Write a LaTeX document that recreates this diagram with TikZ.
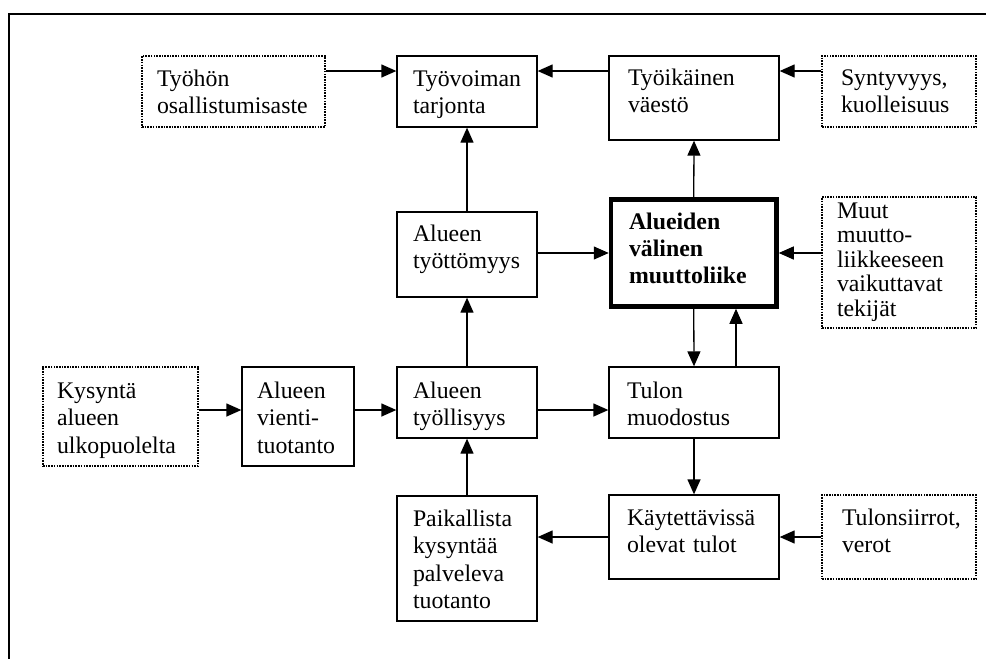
\documentclass[tikz,border=0pt]{standalone}
\usepackage{fontspec}
\setmainfont{Liberation Serif}
\usetikzlibrary{arrows.meta}
\newcommand\padtext[2]{\leftskip=#1pt\relax #2\par}
\tikzset{
  box/.style={draw, line width=1.3pt, inner sep=0pt, align=left, anchor=center,
    font=\fontsize{23.8}{27.5}\selectfont},
  dotbox/.style={box, line width=1.6pt, dash pattern=on 1.6pt off 1.1pt},
  thickbox/.style={box, line width=4.5pt, outer sep=2.25pt,
    font=\fontsize{23.8}{27}\selectfont\bfseries},
  arr/.style={line width=1.3pt, -{Triangle[length=15pt,width=13pt]}},
  frame/.style={line width=1.6pt}
}
\begin{document}
\begin{tikzpicture}[x=1pt,y=-1pt]
\useasboundingbox (0,0) rectangle (986,659);
\draw[frame] (986,14) -- (9,14) -- (9,659);

\coordinate (yA) at (0,71);
\coordinate (yB) at (0,253);
\coordinate (yC) at (0,410);
\coordinate (yD) at (0,537);
\coordinate (xE) at (736,0);

\node[dotbox, text width=183pt, text height=30pt, text depth=41pt] (tyohon) at (233.5,91.5)
  {\padtext{15}{Työhön\\osallistumisaste}};
\node[box, text width=140pt, text height=30pt, text depth=41pt] (tarjonta) at (467,91.5)
  {\padtext{16}{Työvoiman\\tarjonta}};
\node[box, text width=170pt, text height=29pt, text depth=55pt] (tyoikainen) at (694,98)
  {\padtext{19}{Työikäinen\\väestö}};
\node[dotbox, text width=154pt, text height=29pt, text depth=42pt] (syntyvyys) at (899,91.5)
  {\padtext{19}{Syntyvyys,\\kuolleisuus}};

\node[box, text width=140pt, text height=29pt, text depth=56pt] (tyottomyys) at (467,254.5)
  {\padtext{16}{Alueen\\työttömyys}};
\node[thickbox, text width=165.5pt, text height=29.5pt, text depth=77.5pt] (muutto) at (693.75,253)
  {\padtext{18}{Alueiden\\välinen\\muuttoliike}};
\node[dotbox, font=\fontsize{23.8}{24.5}\selectfont, text width=154pt, text height=21pt, text depth=110pt] (muut) at (899,262.5)
  {\padtext{15}{Muut\\muutto-\\liikkeeseen\\vaikuttavat\\tekijät}};

\node[dotbox, text width=155pt, text height=31pt, text depth=68pt] (kysynta) at (120.5,416.5)
  {\padtext{14}{Kysyntä\\alueen\\ulkopuolelta}};
\node[box, text width=112pt, text height=31pt, text depth=68pt] (vienti) at (298,416.5)
  {\padtext{15}{Alueen\\vienti-\\tuotanto}};
\node[box, text width=140pt, text height=31pt, text depth=40pt] (tyollisyys) at (467,402.5)
  {\padtext{16}{Alueen\\työllisyys}};
\node[box, text width=170pt, text height=31pt, text depth=40pt] (tulon) at (694,402.5)
  {\padtext{18}{Tulon\\muodostus}};

\node[box, text width=140pt, text height=30pt, text depth=95pt] (paikallista) at (467,558.5)
  {\padtext{16}{Paikallista\\kysyntää\\palveleva\\tuotanto}};
\node[box, text width=170pt, text height=30pt, text depth=54pt] (kaytettavissa) at (694,537)
  {\padtext{18}{Käytettävissä\\olevat tulot}};
\node[dotbox, text width=154pt, text height=30pt, text depth=54pt] (tulonsiirrot) at (899,537)
  {\padtext{20}{Tulonsiirrot,\\verot}};

\draw[arr] (tyohon.east |- yA) -- (tarjonta.west |- yA);
\draw[arr] (tyoikainen.west |- yA) -- (tarjonta.east |- yA);
\draw[arr] (syntyvyys.west |- yA) -- (tyoikainen.east |- yA);
\draw[arr] (tyottomyys.north) -- (tarjonta.south);
\draw[arr] (muutto.north) -- (tyoikainen.south);
\draw[arr] (tyottomyys.east |- yB) -- (muutto.west |- yB);
\draw[arr] (muut.west |- yB) -- (muutto.east |- yB);
\draw[arr] (muutto.south) -- (tulon.north);
\draw[arr] (tulon.north -| xE) -- (muutto.south -| xE);
\draw[arr] (kysynta.east |- yC) -- (vienti.west |- yC);
\draw[arr] (vienti.east |- yC) -- (tyollisyys.west |- yC);
\draw[arr] (tyollisyys.east |- yC) -- (tulon.west |- yC);
\draw[arr] (tyollisyys.north) -- (tyottomyys.south);
\draw[arr] (tulon.south) -- (kaytettavissa.north);
\draw[arr] (kaytettavissa.west |- yD) -- (paikallista.east |- yD);
\draw[arr] (tulonsiirrot.west |- yD) -- (kaytettavissa.east |- yD);
\draw[arr] (paikallista.north) -- (tyollisyys.south);
\end{tikzpicture}
\end{document}
